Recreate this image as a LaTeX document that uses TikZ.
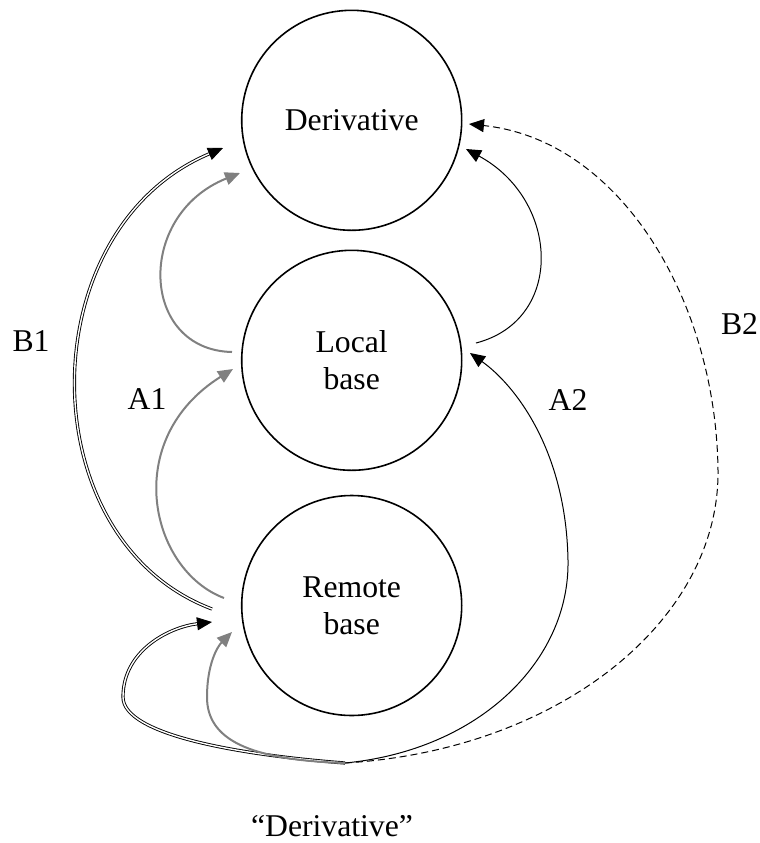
\documentclass[tikz,border=0pt]{standalone}
\usepackage{fontspec}
\setmainfont{Liberation Serif}
\usetikzlibrary{arrows.meta,calc}
\definecolor{arrgray}{RGB}{128,128,128}
\begin{document}
\begin{tikzpicture}[x=0.5pt,y=-0.5pt,
  state/.style={circle,draw,line width=0.8pt,minimum size=110pt,inner sep=0pt,align=center,font=\fontsize{15.85}{18.3}\selectfont},
  lbl/.style={font=\fontsize{15.85}{18.3}\selectfont,inner sep=0pt},
  grayarr/.style={draw=arrgray,line width=1pt,-{Triangle[length=7.5pt,width=6.5pt,color=arrgray]}},
  thinarr/.style={draw=black,line width=0.5pt,-{Triangle[length=7.5pt,width=6.5pt]}},
  dasharr/.style={draw=black,line width=0.5pt,dash pattern=on 3.5pt off 2pt,-{Triangle[length=7.5pt,width=6.5pt]}},
  dbl/.style={draw=black,line width=0.45pt,double=white,double distance=0.7pt,-{Triangle[length=7.5pt,width=6.5pt]}}
]
\useasboundingbox (0,0) rectangle (760,843);

\node[state] (der) at (351.7,120.3) {Derivative};
\node[state] (loc) at (351.7,360.3) {Local\\base};
\node[state] (rem) at (351.7,605.5) {Remote\\base};

\coordinate (src) at (345,763);
\coordinate (b1s) at ($(rem)+(-139.7,3.5)$);
\coordinate (b1t) at ($(der)+(-128.7,27.7)$);
\coordinate (a1us) at ($(loc)+(-119.7,-8.3)$);
\coordinate (a1ut) at ($(der)+(-111.7,52.7)$);
\coordinate (a1ls) at ($(rem)+(-127.7,-7.5)$);
\coordinate (a1lt) at ($(loc)+(-118.7,8.7)$);
\coordinate (lds) at ($(loc)+(124.3,-17.3)$);
\coordinate (ldt) at ($(der)+(114.3,28.7)$);
\coordinate (a2t) at ($(loc)+(118.3,-7.3)$);
\coordinate (b2t) at ($(der)+(117.3,3.7)$);
\coordinate (loopt) at ($(rem)+(-139.7,16.5)$);
\coordinate (grayt) at ($(rem)+(-119.7,26.5)$);

% B1
\draw[dbl] (b1s) .. controls (29,540) and (29,230) .. (b1t);
% A1
\draw[grayarr] (a1us) .. controls (140,350) and (135,215) .. (a1ut);
\draw[grayarr] (a1ls) .. controls (150,570) and (120,440) .. (a1lt);
% A2 side
\draw[thinarr] (lds) .. controls (565,320) and (560,200) .. (ldt);
\draw[thinarr] (src) .. controls (480,750) and (570,660) .. (568,560) .. controls (566,450) and (515,385) .. (a2t);
% B2
\draw[dasharr] (src) .. controls (560,750) and (720,620) .. (718,470) .. controls (716,300) and (620,140) .. (b2t);
% bottom loops
\draw[dbl] (src) .. controls (240,755) and (123,735) .. (123,697) .. controls (123,650) and (170,627) .. (loopt);
\draw[grayarr] (src) .. controls (250,760) and (207,740) .. (207,697) .. controls (207,665) and (217,647) .. (grayt);

\node[lbl] (B1) at (31,341) {B1};
\node[lbl] (A1) at (147,399) {A1};
\node[lbl] (B2) at (739.5,324) {B2};
\node[lbl] (A2) at (568,400) {A2};
\node[lbl] (q) at (332,826) {“Derivative”};
\end{tikzpicture}
\end{document}
